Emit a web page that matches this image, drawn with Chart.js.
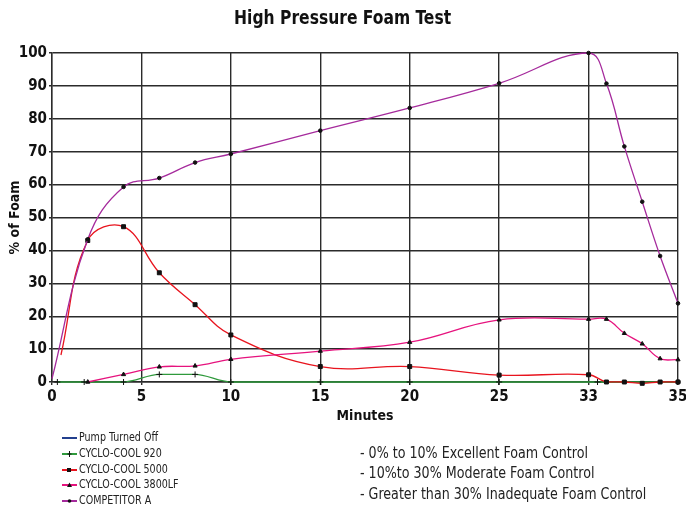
<!DOCTYPE html>
<html>
<head>
<meta charset="utf-8">
<script src="https://cdn.jsdelivr.net/npm/chart.js@4"></script>
<style>
  html, body { margin: 0; padding: 0; background: #fff; }
  #wrap { position: relative; width: 686px; height: 510px; overflow: hidden; }
  #c { position: absolute; left: 0; top: 0; }
  .narrow { font-family: 'Liberation Sans Narrow', 'DejaVu Sans Condensed', Arial, sans-serif; }
  .sq { display: inline-block; transform-origin: 0 50%; }
  #title { position: absolute; left: 0; width: 686px; top: 4px; text-align: center;
           font-size: 20px; font-weight: bold; color: #111; line-height: 26px; }
  #title .sq { transform-origin: 50% 50%; }
  .leg { position: absolute; left: 62px; height: 16px; line-height: 16px; font-size: 12px; color: #222; white-space: nowrap; }
  .leg canvas { display: inline-block; vertical-align: middle; margin-right: 2px; }
  .note { position: absolute; left: 360px; height: 20px; line-height: 20px; font-size: 16px; color: #222; white-space: nowrap; }
</style>
</head>
<body>
<div id="wrap">
  <canvas id="c" width="686" height="510"></canvas>
  <div id="title" class="narrow"><span class="sq" id="titleText"></span></div>
  <div id="legend"></div>
  <div id="notes"></div>
</div>
<script>
// ---- data ----
const chartTitle = 'High Pressure Foam Test';
const xAxisTitle = 'Minutes';
const yAxisTitle = '% of Foam';
const xTickLabels = ['0', '5', '10', '15', '20', '25', '33', '35'];
const seriesNames = ['Pump Turned Off', 'CYCLO-COOL 920', 'CYCLO-COOL 5000', 'CYCLO-COOL 3800LF', 'COMPETITOR A'];

const pumpX = [];
const pumpY = [];

const cc920X = [0.3, 1.8, 4, 6, 8, 10, 15, 20, 25, 30.5, 35];
const cc920Y = [0, 0, 0, 2.3, 2.3, 0, 0, 0, 0, 0, 0];

const cc5000X = [0.5, 2, 4, 6, 8, 10, 15, 20, 25, 30, 31, 32, 33, 34, 35];
const cc5000Y = [8.2, 43, 47.2, 33.2, 23.5, 14.3, 4.7, 4.7, 2.1, 2.2, 0, 0, -0.4, 0, 0];

const cc3800X = [2, 4, 6, 8, 10, 15, 20, 25, 30, 31, 32, 33, 34, 35];
const cc3800Y = [0, 2.3, 4.6, 4.9, 6.9, 9.4, 12.1, 18.9, 19.1, 19.1, 14.8, 11.6, 7.1, 6.8];

const compX = [0, 2, 4, 6, 8, 10, 15, 20, 25, 30, 31, 32, 33, 34, 35];
const compY = [1, 43.4, 59.3, 62, 66.7, 69.3, 76.4, 83.3, 90.8, 100, 90.7, 71.6, 54.8, 38.3, 23.9];

const notes = [
  '- 0% to 10% Excellent Foam Control',
  '- 10%to 30% Moderate Foam Control',
  '- Greater than 30% Inadequate Foam Control'
];

// ---- styles ----
const FONT = "'Liberation Sans Narrow', 'DejaVu Sans Condensed', Arial, sans-serif";
const colors = ['#23408e', '#2f9a3c', '#e8141e', '#e6137e', '#a52a9c'];
const markers = [false, 'cross', 'rect', 'triangle', 'circle'];
const markerSize = [0, 3, 2.8, 2.4, 1.8];

function pts(xs, ys) { return xs.map((x, i) => ({ x: x, y: ys[i] })); }

const seriesData = [pts(pumpX, pumpY), pts(cc920X, cc920Y), pts(cc5000X, cc5000Y), pts(cc3800X, cc3800Y), pts(compX, compY)];

function ds(i, extra) {
  return Object.assign({
    label: seriesNames[i],
    data: seriesData[i],
    borderColor: colors[i],
    backgroundColor: '#111',
    borderWidth: 1.3,
    pointStyle: markers[i],
    pointRadius: markerSize[i],
    pointBorderColor: '#111',
    pointBackgroundColor: '#111',
    pointBorderWidth: 1,
    tension: 0.4,
    fill: false,
    clip: 4
  }, extra || {});
}

const datasets = [
  ds(4, { pointRadius: c => c.dataIndex === 0 ? 0 : markerSize[4] }),
  ds(3),
  ds(2, { pointRadius: c => c.dataIndex === 0 ? 0 : markerSize[2] }),
  ds(1, { cubicInterpolationMode: 'monotone' }),
  ds(0)
];

const gridColor = '#2b2b2b';
const tickFont = { family: FONT, size: 15, weight: 'bold' };
const axisTitleFont = { family: FONT, size: 14, weight: 'bold' };

new Chart(document.getElementById('c'), {
  type: 'line',
  data: { datasets: datasets },
  options: {
    responsive: false,
    animation: false,
    layout: { padding: { left: 0, top: 53, right: 8, bottom: 84 } },
    plugins: { legend: { display: false }, tooltip: { enabled: false }, title: { display: false } },
    scales: {
      x: {
        type: 'linear', min: 0, max: 35,
        afterFit: s => { s.height = 44; s.paddingLeft = 0; s.paddingRight = 0; },
        afterBuildTicks: s => { s.ticks = xTickLabels.map((t, i) => ({ value: i * 5 })); },
        ticks: {
          stepSize: 5, padding: 3, maxRotation: 0, autoSkip: false,
          color: '#111', font: tickFont,
          callback: (v, i) => xTickLabels[i]
        },
        grid: { color: gridColor, lineWidth: 1.4, tickLength: 3, drawTicks: true },
        border: { color: gridColor, width: 1.4 },
        title: { display: true, text: xAxisTitle, color: '#111', padding: { top: 0, bottom: 1 }, font: axisTitleFont }
      },
      y: {
        min: 0, max: 100,
        afterFit: s => { s.width = 52; },
        ticks: { stepSize: 10, padding: 2, color: '#111', font: tickFont },
        grid: { color: gridColor, lineWidth: 1.4, tickLength: 3 },
        border: { color: gridColor, width: 1.4 },
        title: { display: true, text: yAxisTitle, color: '#111', padding: { top: 7, bottom: 0 }, font: axisTitleFont }
      }
    }
  }
});

// ---- HTML title / legend / notes (horizontally condensed to match the narrow face) ----
function squeeze(span, targetWidth) {
  const w = span.getBoundingClientRect().width;
  if (w > 0) span.style.transform = 'scaleX(' + (targetWidth / w) + ')';
}

const titleSpan = document.getElementById('titleText');
titleSpan.textContent = chartTitle;
squeeze(titleSpan, 217);

const legendTops = [429, 445, 461, 476, 492];
const legendEl = document.getElementById('legend');
const legendSpans = [];
seriesNames.forEach((name, i) => {
  const row = document.createElement('div');
  row.className = 'leg narrow';
  row.style.top = legendTops[i] + 'px';
  const cv = document.createElement('canvas');
  cv.width = 15; cv.height = 10;
  const g = cv.getContext('2d');
  g.strokeStyle = colors[i]; g.lineWidth = 2;
  g.beginPath(); g.moveTo(0, 5); g.lineTo(15, 5); g.stroke();
  g.fillStyle = '#111'; g.strokeStyle = '#111'; g.lineWidth = 1;
  if (markers[i] === 'rect') g.fillRect(5, 3, 4, 4);
  else if (markers[i] === 'triangle') { g.beginPath(); g.moveTo(7.5, 2.5); g.lineTo(10, 7); g.lineTo(5, 7); g.closePath(); g.fill(); }
  else if (markers[i] === 'circle') { g.beginPath(); g.arc(7.5, 5, 1.8, 0, Math.PI * 2); g.fill(); }
  else if (markers[i] === 'cross') { g.beginPath(); g.moveTo(7.5, 2); g.lineTo(7.5, 8); g.moveTo(5.5, 5); g.lineTo(9.5, 5); g.stroke(); }
  row.appendChild(cv);
  const sp = document.createElement('span');
  sp.className = 'sq';
  sp.textContent = name;
  row.appendChild(sp);
  legendEl.appendChild(row);
  legendSpans.push(sp);
});
const legScale = 79 / legendSpans[0].getBoundingClientRect().width;
legendSpans.forEach(sp => sp.style.transform = 'scaleX(' + legScale + ')');

const noteTops = [443, 463, 484];
const notesEl = document.getElementById('notes');
const noteSpans = [];
notes.forEach((t, i) => {
  const d = document.createElement('div');
  d.className = 'note narrow';
  d.style.top = noteTops[i] + 'px';
  const sp = document.createElement('span');
  sp.className = 'sq';
  sp.textContent = t;
  d.appendChild(sp);
  notesEl.appendChild(d);
  noteSpans.push(sp);
});
const noteScale = 228 / noteSpans[0].getBoundingClientRect().width;
noteSpans.forEach(sp => sp.style.transform = 'scaleX(' + noteScale + ')');
</script>
</body>
</html>
